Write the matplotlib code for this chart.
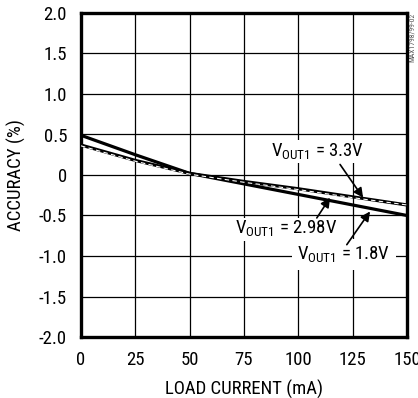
import matplotlib
matplotlib.use('Agg')
import matplotlib.pyplot as plt

plt.rcParams['font.family'] = ['Roboto Condensed', 'DejaVu Sans']
plt.rcParams['mathtext.fontset'] = 'custom'
plt.rcParams['mathtext.rm'] = 'Roboto Condensed'

load = [0, 25, 50, 75, 100, 125, 150]
acc_18 = [0.49, 0.25, 0.02, -0.11, -0.24, -0.37, -0.50]
acc_33 = [0.37, 0.18, 0.02, -0.08, -0.17, -0.27, -0.37]
acc_298 = [0.36, 0.17, 0.01, -0.09, -0.18, -0.28, -0.37]

xticks = [0, 25, 50, 75, 100, 125, 150]
yticks = [-2.0, -1.5, -1.0, -0.5, 0, 0.5, 1.0, 1.5, 2.0]
ylabels = ['-2.0', '-1.5', '-1.0', '-0.5', '0', '0.5', '1.0', '1.5', '2.0']

fig = plt.figure(figsize=(4.18, 3.98), dpi=100)
ax = fig.add_axes([81/418, 1-337/398, 326/418, 324/398])

ax.plot(load, acc_18, color='black', lw=2.3, zorder=3)
ax.plot(load, acc_33, color='black', lw=2.3, zorder=3)
ax.plot(load, acc_298, color='white', lw=0.8, ls=(0, (4, 3)), zorder=4)

ax.set_xlim(0, 150)
ax.set_ylim(-2, 2)
ax.set_xticks(xticks)
ax.set_yticks(yticks)
ax.set_yticklabels(ylabels)
ax.tick_params(length=0, labelsize=13.5, pad=10)
ax.grid(True, color='black', lw=0.9)
for s in ax.spines.values():
    s.set_linewidth(2.4)

ax.set_xlabel('LOAD CURRENT (mA)', fontsize=13.5, labelpad=8)
ax.set_ylabel('ACCURACY (%)', fontsize=13.5, labelpad=9)

box = dict(facecolor='white', edgecolor='none', pad=1)
arrow = dict(arrowstyle='-|>', color='black', lw=1.2, mutation_scale=14, shrinkA=0, shrinkB=0)

ax.text(109, 0.29, r'V$_{\mathregular{OUT1}}$ = 3.3V', fontsize=13.5, ha='center', va='center', bbox=box, zorder=5)
ax.annotate('', xy=(129.8, -0.28), xytext=(119.2, 0.13), arrowprops=arrow, zorder=5)

ax.text(94.3, -0.67, r'V$_{\mathregular{OUT1}}$ = 2.98V', fontsize=13.5, ha='center', va='center', bbox=box, zorder=5)
ax.annotate('', xy=(114.6, -0.28), xytext=(108.5, -0.53), arrowprops=arrow, zorder=5)

ax.text(121, -0.98, r'V$_{\mathregular{OUT1}}$ = 1.8V', fontsize=13.5, ha='center', va='center',
        bbox=dict(facecolor='white', edgecolor='none', pad=4), zorder=5)
ax.annotate('', xy=(133, -0.45), xytext=(122.3, -0.86), arrowprops=arrow, zorder=5)

fig.text(412/418, 1-13/398, 'MAX1798/99-02', rotation=90, fontsize=5.5, color='#555555', ha='center', va='top')

fig.savefig('out.png', dpi=100)
